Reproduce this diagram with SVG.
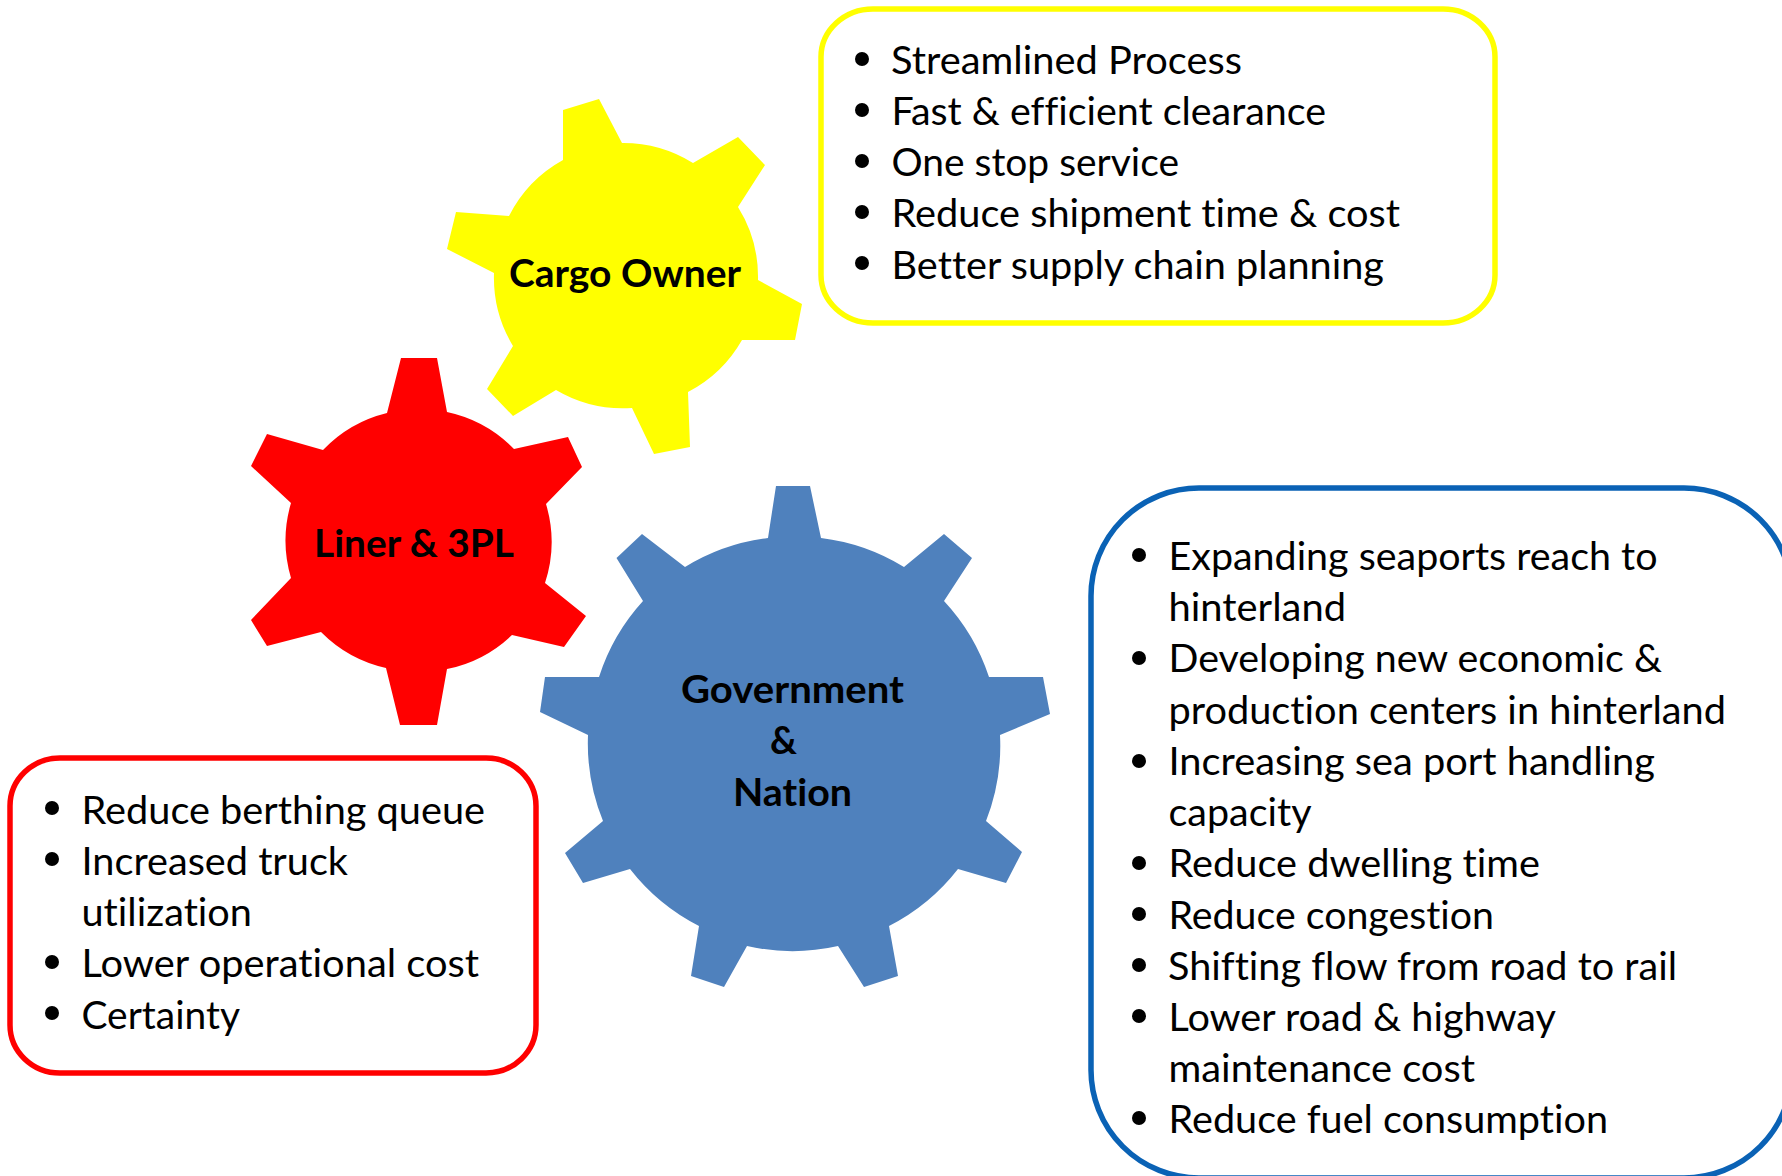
<svg xmlns="http://www.w3.org/2000/svg" width="1782" height="1176" viewBox="0 0 1782 1176">
<style>
text{font-family:Lato,"Noto Sans","Liberation Sans",sans-serif;fill:#000;font-variant-ligatures:none}
.item{font-size:38px}
.label{font-size:38px;font-weight:700}
.box{fill:#fff;stroke-width:5.5}
.dot{fill:#000}
</style>
<rect width="1782" height="1176" fill="#fff"/>
<g id="gear-cargo-owner">
<path fill="#FFFF00" d="M563 160L563 110L599 99L622 143A132 132 0 0 1 693 163L738 137L765 165L738 207A132 132 0 0 1 758 280L802 304L795 340L742 340A132 132 0 0 1 688 392L690 447L654 454L632 408A132 132 0 0 1 556 390L513 416L487 389L513 346A132 132 0 0 1 494 273L447 249L456 212L509 216A132 132 0 0 1 563 160Z"/>
<text class="label" x="509" y="287" textLength="232" lengthAdjust="spacingAndGlyphs">Cargo Owner</text>
</g>
<g id="gear-liner-3pl">
<path fill="#FF0000" d="M387 413L401 358L437 358L447 412A132 132 0 0 1 514 449L568 437L582 467L546 504A132 132 0 0 1 545 583L586 616L564 647L512 635A132 132 0 0 1 447 669L437 725L400 725L386 668A132 132 0 0 1 321 632L267 646L251 620L291 578A132 132 0 0 1 291 503L251 466L267 434L323 450A132 132 0 0 1 387 413Z"/>
<text class="label" x="314" y="557" textLength="200" lengthAdjust="spacingAndGlyphs">Liner &amp; 3PL</text>
</g>
<g id="gear-government-nation">
<path fill="#4F81BD" d="M768 538L776 486L810 486L821 538A206 206 0 0 1 904 567L944 534L972 558L944 601A206 206 0 0 1 989 677L1043 677L1050 714L1000 735A206 206 0 0 1 986 821L1022 852L1006 883L958 869A206 206 0 0 1 889 926L898 976L864 987L838 946A206 206 0 0 1 747 946L724 987L691 976L699 926A206 206 0 0 1 630 869L583 883L565 853L603 821A206 206 0 0 1 588 735L540 712L545 677L599 677A206 206 0 0 1 643 601L616.5 558L642 534L685 567A206 206 0 0 1 768 538Z"/>
<text class="label" x="681" y="703" textLength="223" lengthAdjust="spacingAndGlyphs">Government</text>
<text class="label" x="770" y="754" textLength="27" lengthAdjust="spacingAndGlyphs">&amp;</text>
<text class="label" x="733" y="806" textLength="119" lengthAdjust="spacingAndGlyphs">Nation</text>
</g>
<g id="box-cargo-owner">
<rect class="box" stroke="#FFFF00" x="821" y="9" width="674" height="314" rx="52" ry="48"/>
<circle class="dot" cx="862" cy="59" r="7"/><text class="item" x="891" y="74" textLength="351" lengthAdjust="spacingAndGlyphs">Streamlined Process</text>
<circle class="dot" cx="862" cy="110" r="7"/><text class="item" x="891.5" y="125" textLength="434.5" lengthAdjust="spacingAndGlyphs">Fast &amp; efficient clearance</text>
<circle class="dot" cx="862" cy="161" r="7"/><text class="item" x="891.5" y="176" textLength="287.5" lengthAdjust="spacingAndGlyphs">One stop service</text>
<circle class="dot" cx="862" cy="212" r="7"/><text class="item" x="891.5" y="227" textLength="508.5" lengthAdjust="spacingAndGlyphs">Reduce shipment time &amp; cost</text>
<circle class="dot" cx="862" cy="263" r="7"/><text class="item" x="891.5" y="278.5" textLength="492.5" lengthAdjust="spacingAndGlyphs">Better supply chain planning</text>
</g>
<g id="box-liner-3pl">
<rect class="box" stroke="#FF0000" x="10" y="758" width="526" height="315" rx="50" ry="48"/>
<circle class="dot" cx="52" cy="808" r="7"/><text class="item" x="81.5" y="824" textLength="403.5" lengthAdjust="spacingAndGlyphs">Reduce berthing queue</text>
<circle class="dot" cx="52" cy="859" r="7"/><text class="item" x="81.5" y="875" textLength="266.5" lengthAdjust="spacingAndGlyphs">Increased truck</text>
<text class="item" x="81.5" y="926" textLength="170.5" lengthAdjust="spacingAndGlyphs">utilization</text>
<circle class="dot" cx="52" cy="962" r="7"/><text class="item" x="81.5" y="977" textLength="397.5" lengthAdjust="spacingAndGlyphs">Lower operational cost</text>
<circle class="dot" cx="52" cy="1013" r="7"/><text class="item" x="81.5" y="1029" textLength="158.5" lengthAdjust="spacingAndGlyphs">Certainty</text>
</g>
<g id="box-government-nation">
<rect class="box" stroke="#0A62B5" x="1091" y="488" width="701" height="690" rx="108" ry="108"/>
<circle class="dot" cx="1139" cy="555" r="7"/><text class="item" x="1168.5" y="570" textLength="489" lengthAdjust="spacingAndGlyphs">Expanding seaports reach to</text>
<text class="item" x="1168.5" y="621" textLength="177.5" lengthAdjust="spacingAndGlyphs">hinterland</text>
<circle class="dot" cx="1139" cy="658" r="7"/><text class="item" x="1168.5" y="672" textLength="493.5" lengthAdjust="spacingAndGlyphs">Developing new economic &amp;</text>
<text class="item" x="1168.5" y="724" textLength="557.5" lengthAdjust="spacingAndGlyphs">production centers in hinterland</text>
<circle class="dot" cx="1139" cy="761" r="7"/><text class="item" x="1168.5" y="775" textLength="486.5" lengthAdjust="spacingAndGlyphs">Increasing sea port handling</text>
<text class="item" x="1168.5" y="826" textLength="143" lengthAdjust="spacingAndGlyphs">capacity</text>
<circle class="dot" cx="1139" cy="863" r="7"/><text class="item" x="1168.5" y="877" textLength="371.5" lengthAdjust="spacingAndGlyphs">Reduce dwelling time</text>
<circle class="dot" cx="1139" cy="914" r="7"/><text class="item" x="1168.5" y="929" textLength="325.5" lengthAdjust="spacingAndGlyphs">Reduce congestion</text>
<circle class="dot" cx="1139" cy="965" r="7"/><text class="item" x="1168" y="980" textLength="509" lengthAdjust="spacingAndGlyphs">Shifting flow from road to rail</text>
<circle class="dot" cx="1139" cy="1016" r="7"/><text class="item" x="1168.5" y="1031" textLength="387.5" lengthAdjust="spacingAndGlyphs">Lower road &amp; highway</text>
<text class="item" x="1168.5" y="1082" textLength="306.5" lengthAdjust="spacingAndGlyphs">maintenance cost</text>
<circle class="dot" cx="1139" cy="1118" r="7"/><text class="item" x="1168.5" y="1133" textLength="439.5" lengthAdjust="spacingAndGlyphs">Reduce fuel consumption</text>
</g>
</svg>
